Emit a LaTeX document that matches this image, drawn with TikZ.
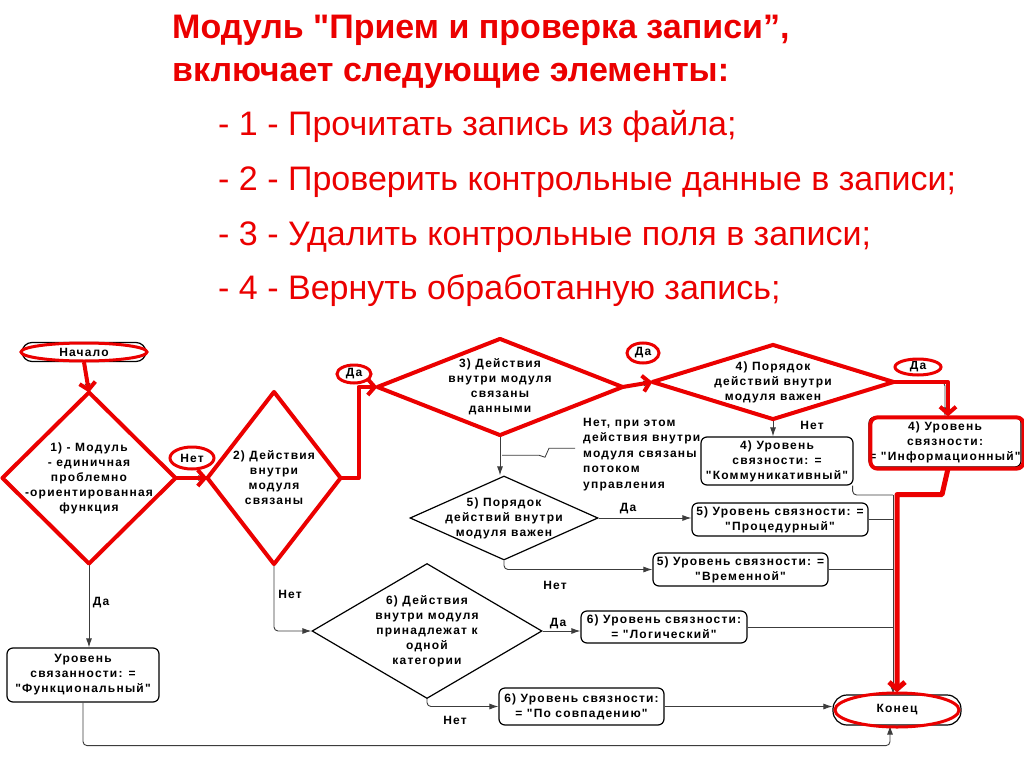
\documentclass[tikz,border=0pt]{standalone}
\usepackage{fontspec}
\setmainfont{Liberation Sans}[Ligatures=TeXOff]
\newfontfamily\diagfont[LetterSpace=10,Ligatures=TeXOff]{Liberation Sans}
\usetikzlibrary{shapes.geometric,arrows.meta,calc}
\definecolor{hlred}{RGB}{235,0,0}
\definecolor{linegray}{RGB}{60,60,60}
\tikzset{
  dtxt/.style={font=\diagfont\bfseries\fontsize{12}{15}\selectfont, align=center, inner sep=0pt},
  dia/.style={diamond, draw=black, line width=1.2pt, inner sep=0pt},
  box/.style={draw=black, line width=1.2pt, rounded corners=6pt, align=center, inner sep=0pt,
    font=\diagfont\bfseries\fontsize{12}{15}\selectfont},
  term/.style={draw=black, line width=1.2pt, rounded corners=10pt, inner sep=0pt,
    font=\diagfont\bfseries\fontsize{12}{15}\selectfont},
  hl/.style={draw=hlred, line width=4pt, line join=round, line cap=round},
  ring/.style={draw=hlred, line width=3pt},
  conn/.style={draw=linegray, line width=0.9pt, rounded corners=4pt, -{Latex[length=9pt,width=6pt]}},
  plain/.style={draw=linegray, line width=0.9pt, rounded corners=4pt},
  hlarrow/.style={draw=hlred, line width=4pt, line join=round, -{Straight Barb[length=7pt,width=16pt]}},
  lbl/.style={font=\diagfont\bfseries\fontsize{12}{15}\selectfont, inner sep=0pt},
  ttl/.style={font=\bfseries\fontsize{34}{40}\selectfont, text=hlred, anchor=base west, inner sep=0pt},
  itm/.style={font=\fontsize{34}{40}\selectfont, text=hlred, anchor=base west, inner sep=0pt}
}
\begin{document}
\begin{tikzpicture}[x=1pt,y=-1pt]
\useasboundingbox[fill=white] (0,0) rectangle (1024,767);
% title
\node[ttl] (t1) at (172,39) {Модуль "Прием и проверка записи”,};
\node[ttl] (t2) at (172,82) {включает следующие элементы:};
\node[itm] (i1) at (218,136) {- 1 - Прочитать запись из файла;};
\node[itm] (i2) at (218,191) {- 2 - Проверить контрольные данные в записи;};
\node[itm] (i3) at (218,245) {- 3 - Удалить контрольные поля в записи;};
\node[itm] (i4) at (218,299) {- 4 - Вернуть обработанную запись;};

% terminators
\node[term, minimum width=124pt, minimum height=19pt] (start) at (84,352) {Начало};
\node[term, minimum width=128pt, minimum height=30pt, rounded corners=14pt] (end) at (897,710) {Конец};

% diamonds
\node[dia, minimum width=172pt, minimum height=170pt] (d1) at (89,478) {};
\node[dtxt] at (d1) {1) - Модуль\\- единичная\\проблемно\\-ориентированная\\функция};
\node[dia, minimum width=132pt, minimum height=171pt] (d2) at (274,478) {};
\node[dtxt] at (d2) {2) Действия\\внутри\\модуля\\связаны};
\node[dia, minimum width=244pt, minimum height=95pt] (d3) at (500,387) {};
\node[dtxt] at (d3) {3) Действия\\внутри модуля\\связаны\\данными};
\node[dia, minimum width=240pt, minimum height=73pt] (d4) at (773,382) {};
\node[dtxt] at (d4) {4) Порядок\\действий внутри\\модуля важен};
\node[dia, minimum width=188pt, minimum height=84pt] (d5) at (504,518) {};
\node[dtxt] at (d5) {5) Порядок\\действий внутри\\модуля важен};
\node[dia, minimum width=230pt, minimum height=135pt] (d6) at (427,631) {};
\node[dtxt] at (d6) {6) Действия\\внутри модуля\\принадлежат к\\одной\\категории};

% boxes
\node[box, minimum width=152pt, minimum height=54pt] (bF) at (83,675) {Уровень\\связанности: =\\"Функциональный"};
\node[box, minimum width=152pt, minimum height=48pt] (bK) at (777,461) {4) Уровень\\связности: =\\"Коммуникативный"};
\node[box, minimum width=152pt, minimum height=50pt] (bI) at (945,442) {4) Уровень\\связности:\\= "Информационный"};
\node[box, minimum width=176pt, minimum height=33pt] (bP) at (780,519.5) {5) Уровень связности: =\\"Процедурный"};
\node[box, minimum width=175pt, minimum height=33pt] (bV) at (740.5,569.5) {5) Уровень связности: =\\"Временной"};
\node[box, minimum width=166pt, minimum height=32pt] (bL) at (664,627) {6) Уровень связности:\\= "Логический"};
\node[box, minimum width=165pt, minimum height=37pt] (bS) at (581.5,706.5) {6) Уровень связности:\\= "По совпадению"};

% black connectors
\draw[conn] (start.south) -- (d1.north);
\draw[conn] (d1.east) -- (d2.west);
\draw[plain] (d2.east) -- ++(18,0) |- (d3.west);
\draw[conn] (d3.east) -- (d4.west);
\draw[conn] (d4.east) -| (bI.north);
\draw[conn] (d4.south) -- (d4.south |- bK.north);
\draw[conn] (d3.south) -- (d3.south |- d5.north);
\draw[conn] (d5.east) -- (d5.east -| bP.west);
\draw[conn] (d5.south) |- (bV.west);
\draw[conn] (d2.south) |- (d6.west);
\draw[conn] (d6.east) -- (d6.east -| bL.west);
\draw[conn] (d6.south) |- (bS.west);
\draw[conn] (d1.south) -- (d1.south |- bF.north);
\draw[conn] (bS.east) -- (bS.east -| end.west);
\draw[conn] (bF.south) -- ++(0,43) -| ($(end.south)+(-7,0)$);
\coordinate (trunk) at (893,495);
\draw[plain] ($(bK.south east)+(-1,0)$) |- (trunk);
\draw[plain] (bP.east) -- (bP.east -| trunk);
\draw[plain] (bV.east) -- (bV.east -| trunk);
\draw[plain] (bL.east) -- (bL.east -| trunk);
\draw[conn] (trunk) -- (trunk |- end.north);

% leader label
\node[lbl, anchor=north west, align=left, font=\diagfont\bfseries\fontsize{12}{15.5}\selectfont] (lblN) at (583,418)
  {Нет, при этом\\действия внутри\\модуля связаны\\потоком\\управления};
\draw[draw=linegray, line width=0.8pt] ($(d3.south)!0.5!(d5.north)$) -- ++(37,0) -- ++(6,2) -- ++(4,-9) -- ++(26,0);

% plain labels
\node[lbl] (nK) at (812,425) {Нет};
\node[lbl] (yP) at (628,509) {Да};
\node[lbl] (nV) at (555,585) {Нет};
\node[lbl] (n6) at (290,594) {Нет};
\node[lbl] (yL) at (558,624) {Да};
\node[lbl] (nS) at (455,720) {Нет};
\node[lbl] (yF) at (101,603) {Да};

% circled labels
\node[lbl] (n2) at (192,458) {Нет};
\node[lbl] (y3) at (354,374) {Да};
\node[lbl] (y4) at (643,353) {Да};
\node[lbl] (yI) at (918,367) {Да};

% red highlights
\draw[ring] (start.center) ellipse (63pt and 9pt);
\draw[hl] (d1.north) -- (d1.east) -- (d1.south) -- (d1.west) -- cycle;
\draw[hl] (d2.north) -- (d2.east) -- (d2.south) -- (d2.west) -- cycle;
\draw[hl] (d3.north) -- (d3.east) -- (d3.south) -- (d3.west) -- cycle;
\draw[hl] (d4.north) -- (d4.east) -- (d4.south) -- (d4.west) -- cycle;
\draw[hl, rounded corners=7pt] ($(bI.south west)+(2,1)$) rectangle ($(bI.north east)+(2,1)$);
\draw[hlarrow] (start.south) -- (d1.north);
\draw[hlarrow] (d1.east) -- (d2.west);
\draw[hlarrow] (d2.east) -- ++(18,0) |- (d3.west);
\draw[hlarrow] (d3.east) -- (d4.west);
\draw[hlarrow] (d4.east) -| ($(bI.north)+(3,0)$);
\draw[hlarrow, line width=5pt] ($(bI.south)+(3,1)$) -- ++(-6,26) -| ($(end.north)+(0,-2)$);
\draw[ring] (end.center) ellipse (62pt and 17pt);
\draw[ring] (n2.center) ellipse (22pt and 11pt);
\draw[ring] (y3.center) ellipse (17pt and 9pt);
\draw[ring] (y4.center) ellipse (16pt and 10pt);
\draw[ring] (yI.center) ellipse (23pt and 8pt);
\end{tikzpicture}
\end{document}
